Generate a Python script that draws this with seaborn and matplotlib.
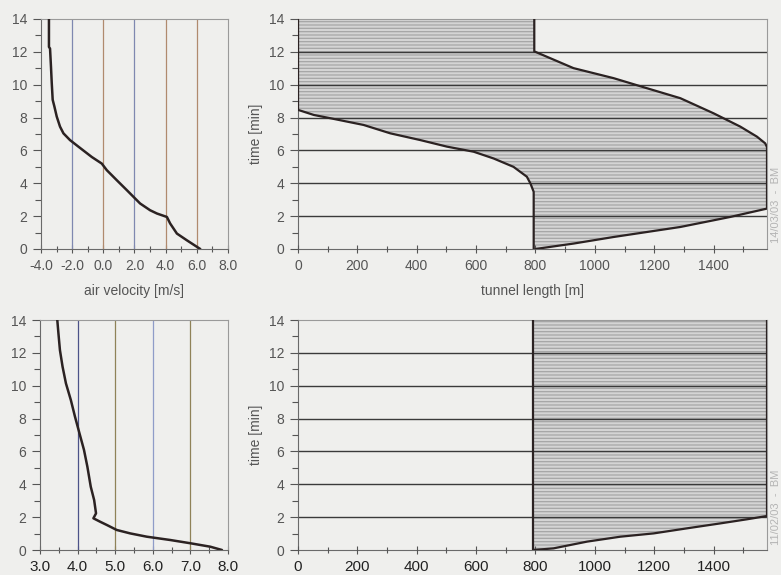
import numpy as np
import pandas as pd
import matplotlib
matplotlib.use("Agg")
import matplotlib.pyplot as plt
import seaborn as sns
from matplotlib.ticker import MultipleLocator

# ---------------- data ----------------
# top-left: air velocity vs time (14/03/03)
vel_top = [6.22, 5.36, 4.72, 4.29, 4.08, 3.44, 3.00, 2.36, 1.94, 1.51, 0.86, 0.22,
           -0.10, -0.74, -1.60, -2.14, -2.56, -2.78, -2.99, -3.14, -3.25, -3.31,
           -3.36, -3.42, -3.49, -3.49]
time_top = [0.0, 0.53, 0.94, 1.55, 1.95, 2.16, 2.36, 2.77, 3.17, 3.58, 4.19, 4.80,
            5.20, 5.60, 6.23, 6.63, 7.04, 7.45, 8.06, 8.67, 9.08, 10.1, 11.1, 12.2,
            12.3, 14.0]

# bottom-left: air velocity vs time (11/02/03)
vel_bot = [7.84, 7.53, 7.00, 6.46, 5.84, 5.40, 5.04, 4.78, 4.60, 4.42, 4.49, 4.44,
           4.35, 4.26, 4.17, 4.05, 3.93, 3.82, 3.69, 3.60, 3.53, 3.49, 3.46]
time_bot = [0.0, 0.20, 0.41, 0.61, 0.81, 1.01, 1.22, 1.52, 1.72, 1.93, 2.23, 3.04,
            3.85, 5.07, 6.09, 7.10, 8.12, 9.13, 10.14, 11.16, 12.17, 13.19, 14.0]

# top-right: smoke zone boundaries in tunnel (x = tunnel length [m], t = time [min])
left_x_top = [0, 0, 53, 109, 221, 311, 412, 502, 592, 659, 726, 771, 783, 794, 794]
left_t_top = [14.0, 8.47, 8.16, 7.96, 7.55, 7.04, 6.63, 6.23, 5.92, 5.51, 5.0, 4.4,
              3.99, 3.48, 0.0]
right_x_top = [796, 796, 928, 1063, 1175, 1288, 1400, 1490, 1546, 1574, 1580, 1580,
               1456, 1288, 1063, 928, 800]
right_t_top = [14.0, 12.03, 11.01, 10.4, 9.79, 9.18, 8.26, 7.45, 6.84, 6.43, 6.2,
               2.46, 1.95, 1.34, 0.73, 0.33, 0.0]

# bottom-right
left_x_bot = [790, 790]
left_t_bot = [14.0, 0.0]
right_x_bot = [1580, 1580, 1513, 1423, 1311, 1198, 1086, 974, 861, 794]
right_t_bot = [14.0, 2.07, 1.87, 1.62, 1.32, 1.01, 0.81, 0.51, 0.10, 0.0]

vel_ticks_top = [-4.0, -2.0, 0.0, 2.0, 4.0, 6.0, 8.0]
vel_ticks_bot = [3.0, 4.0, 5.0, 6.0, 7.0, 8.0]
len_ticks = [0, 200, 400, 600, 800, 1000, 1200, 1400]
time_ticks = [0, 2, 4, 6, 8, 10, 12, 14]

grid_top = [-2.0, 0.0, 2.0, 4.0, 6.0]
grid_top_colors = ["#7f88b0", "#b08a6e", "#7f88b0", "#b08a6e", "#b08a6e"]
grid_bot = [4.0, 5.0, 6.0, 7.0]
grid_bot_colors = ["#4c5288", "#8f8258", "#8f9cc8", "#8f8258"]

# ---------------- style ----------------
sns.set_style("ticks")
plt.rcParams["font.family"] = ["Liberation Sans", "DejaVu Sans"]
plt.rcParams["hatch.linewidth"] = 0.9

BG = "#efefed"
fig = plt.figure(figsize=(7.81, 5.75), dpi=100, facecolor=BG)
W, H = 781, 575


def add_ax(l, r, t, b):
    return fig.add_axes([l / W, (H - b) / H, (r - l) / W, (b - t) / H])


ax_tl = add_ax(41, 228, 19, 249)
ax_tr = add_ax(298, 767, 19, 249)
ax_bl = add_ax(40, 228, 320, 550)
ax_br = add_ax(298, 767, 320, 550)

LINE = "#2b2222"


def style_common(ax, label_color, label_size):
    ax.set_facecolor(BG)
    for s in ax.spines.values():
        s.set_color("#6a6a6a")
        s.set_linewidth(0.8)
    ax.spines["top"].set_color("#9a9a9a")
    ax.spines["right"].set_color("#9a9a9a")
    ax.set_ylim(0, 14)
    ax.set_yticks(time_ticks)
    ax.set_yticklabels([str(v) for v in time_ticks])
    ax.yaxis.set_minor_locator(MultipleLocator(1))
    ax.tick_params(axis="both", which="both", color="#555555", width=0.8)
    ax.tick_params(axis="y", which="major", length=6, direction="out",
                   labelsize=10, labelcolor="#555555", pad=4)
    ax.tick_params(axis="y", which="minor", length=4, direction="out")
    ax.tick_params(axis="x", which="major", length=6, direction="inout",
                   labelsize=label_size, labelcolor=label_color, pad=4)
    ax.tick_params(axis="x", which="minor", length=5, direction="inout")


def velocity_panel(ax, vel, tm, xlim, ticks, minor, gpos, gcol, label_color, label_size):
    style_common(ax, label_color, label_size)
    for gx, gc in zip(gpos, gcol):
        ax.axvline(gx, color=gc, lw=0.9, zorder=1)
    df = pd.DataFrame({"v": vel, "t": tm})
    sns.lineplot(data=df, x="v", y="t", sort=False, estimator=None, orient="y",
                 color=LINE, lw=1.8, ax=ax, zorder=3)
    ax.set_xlim(*xlim)
    ax.set_xticks(ticks)
    ax.set_xticklabels([f"{v:.1f}" for v in ticks])
    ax.xaxis.set_minor_locator(MultipleLocator(minor))
    ax.set_ylim(0, 14)
    ax.set_xlabel("")
    ax.set_ylabel("")


def tunnel_panel(ax, lx, lt, rx, rt, label_color, label_size):
    style_common(ax, label_color, label_size)
    ax.set_axisbelow(False)
    poly_x = list(lx) + list(rx)[::-1]
    poly_t = list(lt) + list(rt)[::-1]
    ax.fill(poly_x, poly_t, facecolor="#d4d4d4", edgecolor="#a6a6a6",
            hatch="-----", linewidth=0, zorder=1)
    for yv in time_ticks[1:-1]:
        ax.axhline(yv, color="#3a3a3a", lw=1.0, zorder=2)
    sns.lineplot(x=lx, y=lt, sort=False, estimator=None, orient="y",
                 color=LINE, lw=1.6, ax=ax, zorder=3)
    sns.lineplot(x=rx, y=rt, sort=False, estimator=None, orient="y",
                 color=LINE, lw=1.6, ax=ax, zorder=3)
    ax.set_xlim(0, 1580)
    ax.set_xticks(len_ticks)
    ax.set_xticklabels([str(v) for v in len_ticks])
    ax.xaxis.set_minor_locator(MultipleLocator(100))
    ax.set_ylim(0, 14)
    ax.set_xlabel("")
    ax.set_ylabel("time [min]", fontsize=10, color="#555555", labelpad=4)


velocity_panel(ax_tl, vel_top, time_top, (-4, 8), vel_ticks_top, 1.0,
               grid_top, grid_top_colors, "#555555", 10)
velocity_panel(ax_bl, vel_bot, time_bot, (3, 8), vel_ticks_bot, 0.5,
               grid_bot, grid_bot_colors, "#222222", 11)
tunnel_panel(ax_tr, left_x_top, left_t_top, right_x_top, right_t_top, "#555555", 10)
tunnel_panel(ax_br, left_x_bot, left_t_bot, right_x_bot, right_t_bot, "#222222", 11)

ax_tl.set_xlabel("air velocity [m/s]", fontsize=10, color="#555555", labelpad=8)
ax_tr.set_xlabel("tunnel length [m]", fontsize=10, color="#555555", labelpad=8)

fig.text(776 / W, 1 - 205 / H, "14/03/03  -  BM", rotation=90, ha="center",
         va="center", fontsize=8, color="#b4b4b4")
fig.text(776 / W, 1 - 507 / H, "11/02/03  -  BM", rotation=90, ha="center",
         va="center", fontsize=8, color="#b4b4b4")

fig.savefig("out.png", dpi=100, facecolor=BG)
